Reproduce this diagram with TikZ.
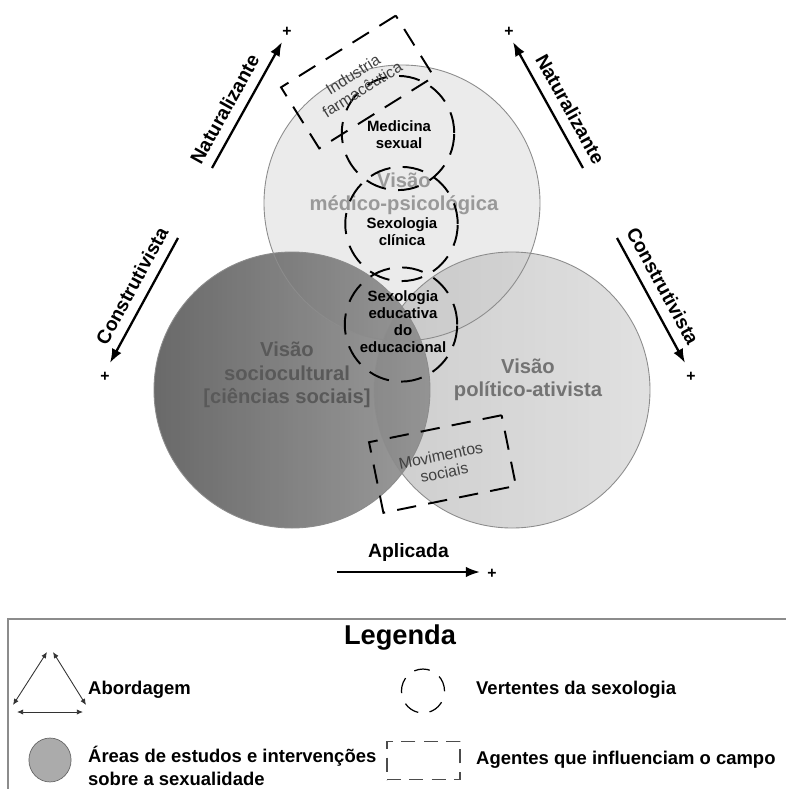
\documentclass[tikz,border=0pt]{standalone}
\usepackage{fontspec}
\setmainfont{Liberation Sans}
\usepackage{tikz}
\usetikzlibrary{arrows.meta}
\usetikzlibrary{shapes.geometric}

\tikzset{
  eixo/.style={line width=1.3pt, -{Latex[length=8pt,width=6pt]}},
  eixotexto/.style={font=\fontsize{11}{13}\selectfont\bfseries, sloped, above=2pt},
  mais/.style={font=\fontsize{9}{9}\selectfont\bfseries, inner sep=0pt},
  vertente/.style={ellipse, draw, line width=1.1pt, dash pattern=on 12pt off 7pt,
    minimum width=64pt, minimum height=65pt, inner sep=0pt},
  vertentetexto/.style={align=center, font=\fontsize{8.5}{9.7}\selectfont\bfseries},
  agente/.style={draw, line width=1.1pt, dash pattern=on 11pt off 7pt, minimum width=77pt,
    minimum height=41pt, align=center, text=black!75, font=\fontsize{9}{10}\selectfont},
  visao/.style={align=center, font=\fontsize{11.5}{13.3}\selectfont\bfseries},
  contorno/.style={draw=black!45, line width=0.5pt},
  legtexto/.style={anchor=west, align=left, font=\fontsize{10.5}{13}\selectfont\bfseries},
  leg/.style={line width=0.5pt, black!80, {Latex[length=3.5pt,width=3pt]}-{Latex[length=3.5pt,width=3pt]}}
}

\begin{document}
\begin{tikzpicture}[x=0.02cm, y=-0.02cm]
\useasboundingbox (0,0) rectangle (786,789);

\fill[black!8] (402,203) circle[radius=138];
\shade[left color=black!26, right color=black!16, fill opacity=0.75] (512,390) circle[radius=138];
\shade[left color=black!69, right color=black!46, fill opacity=0.85] (292,390) circle[radius=138];
\draw[contorno] (402,203) circle[radius=138];
\draw[contorno] (512,390) circle[radius=138];
\draw[contorno] (292,390) circle[radius=138];

\node[visao, text=black!40] (medico) at (404,194) {Visão\\médico-psicológica};
\node[visao, text=black!65] (socio) at (287,375) {Visão\\sociocultural\\{[ciências sociais]}};
\node[visao, text=black!55] (politico) at (528,380) {Visão\\político-ativista};

\node[vertente] (medicina) at (398,133) {};
\node[vertentetexto] (medicinatexto) at (399,135) {Medicina\\sexual};
\node[vertente] (clinica) at (401.5,224) {};
\node[vertentetexto] (clinicatexto) at (402,231.5) {Sexologia\\clínica};
\node[vertente] (educativa) at (401,324.5) {};
\node[vertentetexto] (educativatexto) at (403,321.5) {Sexologia\\educativa\\do\\educacional};

\node[agente, rotate=32] (industria) at (357.5,82) {Industria\\farmacêutica};
\node[agente, rotate=11.5] (movimentos) at (442.5,464) {Movimentos\\sociais};

\coordinate (natE0) at (212,168);
\coordinate (natE1) at (282,42);
\draw[eixo] (natE0) -- (natE1) node[eixotexto, pos=0.4] (natEtexto) {Naturalizante};
\node[mais] (natEmais) at (287,32) {+};
\coordinate (natD0) at (583,168);
\coordinate (natD1) at (513,42);
\draw[eixo] (natD0) -- (natD1) node[eixotexto, pos=0.4] (natDtexto) {Naturalizante};
\node[mais] (natDmais) at (509,32) {+};

\coordinate (conE0) at (178,238);
\coordinate (conE1) at (110,363);
\draw[eixo] (conE0) -- (conE1) node[eixotexto, pos=0.45] (conEtexto) {Construtivista};
\node[mais] (conEmais) at (105,377) {+};
\coordinate (conD0) at (617,238);
\coordinate (conD1) at (685,363);
\draw[eixo] (conD0) -- (conD1) node[eixotexto, pos=0.45] (conDtexto) {Construtivista};
\node[mais] (conDmais) at (691,377) {+};

\coordinate (apl0) at (337,572);
\coordinate (apl1) at (480,572);
\draw[eixo] (apl0) -- (apl1) node[eixotexto, midway] (apltexto) {Aplicada};
\node[mais] (aplmais) at (492,574) {+};

\draw[black!45, line width=0.8pt] (8,619) rectangle (792,800);
\node[font=\fontsize{15.5}{18}\selectfont\bfseries] (legenda) at (400,638) {Legenda};

\coordinate (t1) at (47,652);
\coordinate (t2) at (13,705);
\coordinate (t3) at (53,652);
\coordinate (t4) at (86,705);
\coordinate (t5) at (17,712);
\coordinate (t6) at (83,712);
\draw[leg] (t1) -- (t2);
\draw[leg] (t3) -- (t4);
\draw[leg] (t5) -- (t6);
\node[legtexto] (abordagem) at (82,690) {Abordagem};

\node[ellipse, draw=black!60, fill=black!33, minimum width=24pt, minimum height=25pt, inner sep=0pt] (arealeg) at (50,760) {};
\node[legtexto] (areas) at (82,766) {Áreas de estudos e intervenções\\sobre a sexualidade};

\node[vertente, line width=0.7pt, dash pattern=on 9pt off 6.5pt, minimum width=24.5pt, minimum height=25pt] (vertleg) at (423,691) {};
\node[legtexto] (vertentes) at (470,690) {Vertentes da sexologia};

\node[agente, draw=black!70, line width=0.7pt, dash pattern=on 8pt off 4.7pt, minimum width=41.5pt, minimum height=22pt] (agleg) at (423.5,760.5) {};
\node[legtexto] (agentes) at (470,760) {Agentes que influenciam o campo};
\end{tikzpicture}
\end{document}
